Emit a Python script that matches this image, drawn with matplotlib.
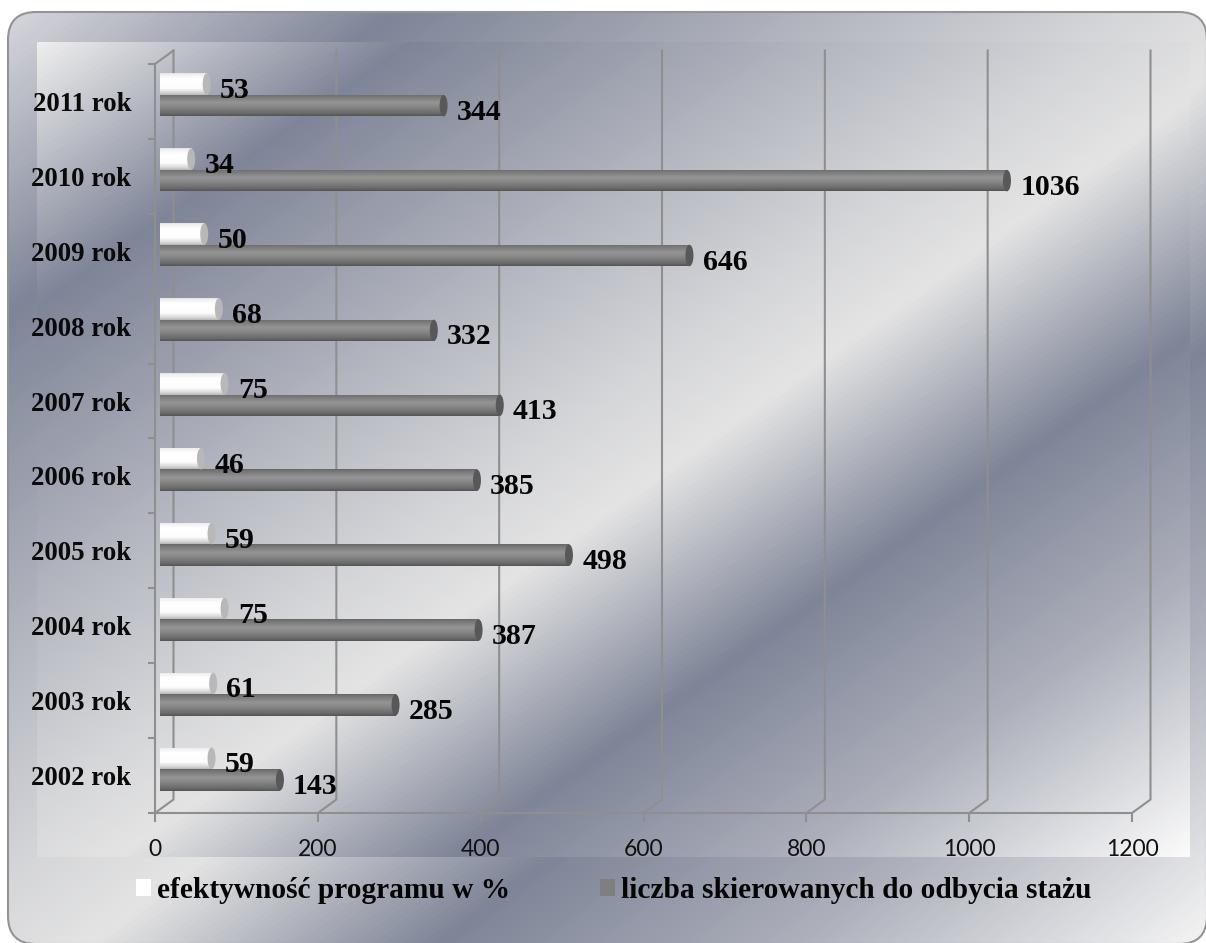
import numpy as np
import matplotlib
matplotlib.use("Agg")
import matplotlib.pyplot as plt
from matplotlib.patches import FancyBboxPatch, Ellipse, Patch
from matplotlib.colors import LinearSegmentedColormap

years = ["2002 rok", "2003 rok", "2004 rok", "2005 rok", "2006 rok",
         "2007 rok", "2008 rok", "2009 rok", "2010 rok", "2011 rok"]
efektywnosc = [59, 61, 75, 59, 46, 75, 68, 50, 34, 53]
skierowani = [143, 285, 387, 498, 385, 413, 332, 646, 1036, 344]
x_ticks = [0, 200, 400, 600, 800, 1000, 1200]
label_eff = "efektywność programu w %"
label_ski = "liczba skierowanych do odbycia stażu"

W, H = 1206, 943
SERIF = "Liberation Serif"
LINE = "#8f8f8f"

fig = plt.figure(figsize=(W / 100, H / 100), dpi=100, facecolor="white")

# ---- background panels ----
bg = fig.add_axes([0, 0, 1, 1], zorder=0)
bg.set_xlim(0, W)
bg.set_ylim(H, 0)
bg.axis("off")


def grad(stops, x0, x1, y0, y1):
    xs, ys = np.meshgrid(np.arange(x0, x1), np.arange(y0, y1))
    t = ((xs - x0) / (x1 - x0) + (ys - y0) / (y1 - y0)) / 2
    cm = LinearSegmentedColormap.from_list("g", stops)
    return bg.imshow(t, cmap=cm, vmin=0, vmax=1, extent=[x0, x1, y1, y0],
                     aspect="auto", interpolation="bilinear")


DARK = "#7f8598"
MID = [(0.16, DARK), (0.37, "#bcbec6"), (0.46, "#d4d5d8"), (0.535, "#e4e4e4"),
       (0.68, DARK), (0.83, "#adb0bb")]
outer = FancyBboxPatch((8, 12), 1199, 932, boxstyle="round,pad=0,rounding_size=28",
                       facecolor="none", edgecolor="#949494", linewidth=1.5, zorder=5)
bg.add_patch(outer)
im_out = grad([(0, "#d6d7dc")] + MID + [(1, "#f4f4f4")], 8, W, 12, H)
im_out.set_clip_path(outer)
grad([(0, "#ededed")] + MID + [(1, "#fbfbfb")], 37, 1190, 42, 857).set_zorder(2)
bg.set_xlim(0, W)
bg.set_ylim(H, 0)

# ---- chart axes ----
ax = fig.add_axes([155 / W, 1 - 813 / H, (1132 - 155) / W, (813 - 64) / H], zorder=1)
ax.patch.set_alpha(0)
ypos = np.arange(len(years))
ax.set_xlim(0, 1200)
ax.set_ylim(-0.5, len(years) - 0.5)

PX = 1200 / (1132 - 155)       # data units per pixel, x
PY = 10 / (813 - 64)           # data units per pixel, y
dx_back, dy_back = 18.5 * PX, 13.5 * PY
top = len(years) - 0.5

for v in x_ticks:
    ax.plot([v, v + dx_back, v + dx_back], [-0.5, -0.5 + dy_back, top + dy_back],
            color=LINE, lw=1.5, clip_on=False, zorder=1, solid_joinstyle="miter")
ax.plot([0, dx_back], [top, top + dy_back], color=LINE, lw=1.5, clip_on=False, zorder=1)

for s in ("top", "right"):
    ax.spines[s].set_visible(False)
for s in ("left", "bottom"):
    ax.spines[s].set_color(LINE)
    ax.spines[s].set_linewidth(1.5)

ax.set_xticks(x_ticks)
ax.tick_params(axis="x", length=6.5, width=1.5, color=LINE, pad=12.5, labelsize=16.5, labelcolor="#111111")
for t in ax.get_xticklabels():
    t.set_fontfamily("Lato")
ax.set_yticks(ypos)
ax.set_yticklabels(years, fontfamily=SERIF, fontweight="bold", fontsize=19.4, color="#0a0a0a")
ax.tick_params(axis="y", length=0, pad=17)
ax.set_yticks(np.arange(-0.5, len(years)), minor=True)
ax.tick_params(axis="y", which="minor", length=5, width=1.5, color=LINE)

# ---- cylinders ----
BAR_H = 21.5 * PY
pair = 6.5 * PY
x_start = 5 * PX
body_extra = 3.5 * PX
cap_w = 8 * PX

grad_grey = LinearSegmentedColormap.from_list(
    "grey", [(0, "#555555"), (0.12, "#6a6a6a"), (0.45, "#8a8a8a"), (0.62, "#959595"),
             (0.92, "#757575"), (1, "#666666")])
grad_white = LinearSegmentedColormap.from_list(
    "white", [(0, "#b8b8b8"), (0.12, "#dadada"), (0.32, "#fdfdfd"), (0.75, "#ffffff"),
              (0.93, "#f0f0f0"), (1, "#e4e4e4")])


def cylinders(values, offset, cmap, base, capcol):
    bars = ax.barh(ypos + offset, np.array(values) + body_extra, height=BAR_H,
                   left=x_start, color=base, linewidth=0, zorder=3)
    for bar, v, y in zip(bars, values, ypos + offset):
        x0, x1 = bar.get_x(), bar.get_x() + bar.get_width()
        im = ax.imshow(np.linspace(0, 1, 64).reshape(-1, 1), cmap=cmap, vmin=0, vmax=1,
                       extent=[x0, x1, y - BAR_H / 2, y + BAR_H / 2], aspect="auto",
                       origin="lower", zorder=3.1, interpolation="bilinear")
        im.set_clip_path(bar)
        ax.add_patch(Ellipse((x1, y), cap_w, BAR_H, facecolor=capcol, edgecolor="none", zorder=3.2))
    return bars


bars_w = cylinders(efektywnosc, pair + BAR_H / 2, grad_white, "#ffffff", "#b8b8b8")
bars_g = cylinders(skierowani, pair - BAR_H / 2, grad_grey, "#7f7f7f", "#585858")
ax.set_xlim(0, 1200)
ax.set_ylim(-0.5, top)

# ---- value labels ----
lab_kw = dict(textcoords="offset points", fontfamily=SERIF, fontweight="bold", fontsize=21.5,
              color="#050505", ha="left", va="center", annotation_clip=False, zorder=6)
for v, y in zip(efektywnosc, ypos + pair + BAR_H / 2):
    ax.annotate(str(v), xy=(v + x_start + body_extra, y), xytext=(9.5, -4.7), **lab_kw)
for v, y in zip(skierowani, ypos + pair - BAR_H / 2):
    ax.annotate(str(v), xy=(v + x_start + body_extra, y), xytext=(9.5, -4.7), **lab_kw)

# ---- legend ----
leg = ax.legend(handles=[Patch(facecolor="#ffffff", edgecolor="none", label=label_eff),
                         Patch(facecolor="#7f7f7f", edgecolor="none", label=label_ski)],
                loc="center left", bbox_to_anchor=(136 / W, 1 - 890.5 / H), bbox_transform=fig.transFigure,
                ncols=2, frameon=False, handlelength=0.51, handleheight=0.51, handletextpad=0.2,
                columnspacing=3.06, borderpad=0, borderaxespad=0,
                prop={"family": SERIF, "weight": "bold", "size": 21.2})
for t in leg.get_texts():
    t.set_color("#050505")

fig.savefig("out.png", dpi=100, facecolor="white")
